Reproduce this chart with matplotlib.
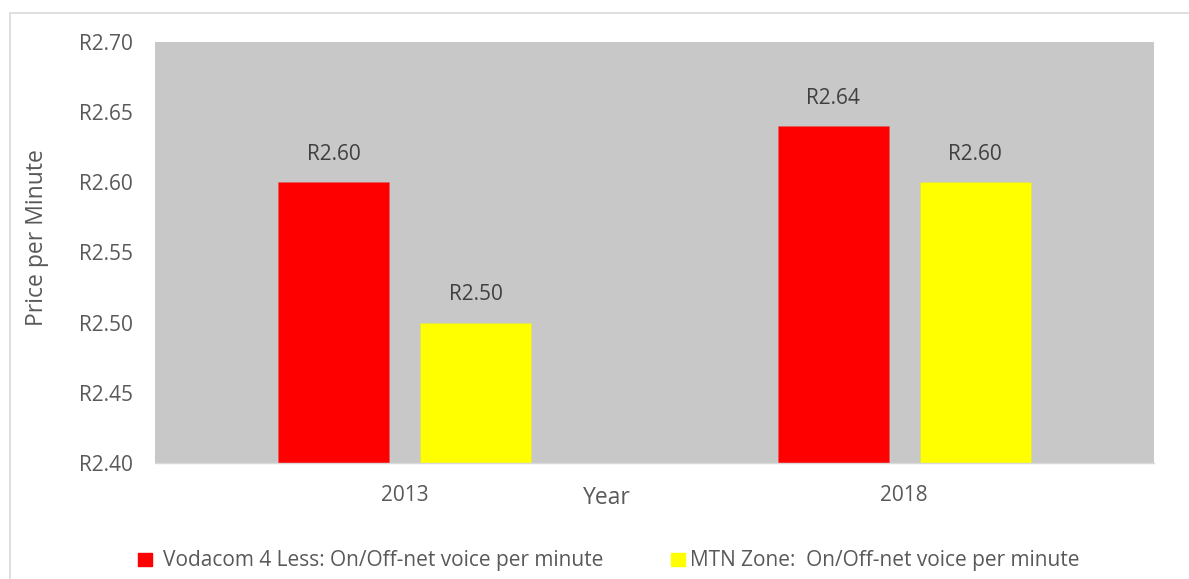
import matplotlib.pyplot as plt
from matplotlib.patches import Rectangle
import numpy as np

years = ["2013", "2018"]
vodacom = [2.60, 2.64]
mtn = [2.50, 2.60]
series_names = ["Vodacom 4 Less: On/Off-net voice per minute",
                "MTN Zone:  On/Off-net voice per minute"]
yticks = [2.40, 2.45, 2.50, 2.55, 2.60, 2.65, 2.70]

plt.rcParams['font.family'] = ['Open Sans', 'DejaVu Sans']
txt = '#595959'

fig = plt.figure(figsize=(11.89, 5.79), dpi=100)
ax = fig.add_axes([155/1189, 1-463/579, 999/1189, 421/579])
ax.set_facecolor('#c8c8c8')

x = np.arange(len(years))
w = 0.222
off = 0.142
base = 2.40
b1 = ax.bar(x - off, np.array(vodacom) - base, w, bottom=base, color='#ff0000',
            edgecolor='#e06060', linewidth=0.5, label=series_names[0])
b2 = ax.bar(x + off, np.array(mtn) - base, w, bottom=base, color='#ffff00',
            edgecolor='#e0e060', linewidth=0.5, label=series_names[1])

for bars, vals in [(b1, vodacom), (b2, mtn)]:
    for b, v in zip(bars, vals):
        ax.text(b.get_x() + b.get_width()/2, v + 0.0125, "R%.2f" % v,
                ha='center', va='bottom', fontsize=15, color='#404040')

ax.set_xlim(-0.5, 1.5)
ax.set_ylim(2.40, 2.70)
ax.set_yticks(yticks)
ax.set_yticklabels(["R%.2f" % t for t in yticks])
ax.set_xticks(x)
ax.set_xticklabels(years)
ax.tick_params(axis='both', length=0, labelsize=15, labelcolor=txt)
ax.tick_params(axis='y', pad=16)
ax.tick_params(axis='x', pad=16)
for s in ['top', 'right', 'left']:
    ax.spines[s].set_visible(False)
ax.spines['bottom'].set_color('#d9d9d9')
ax.spines['bottom'].set_linewidth(1)

fig.text(607/1189, 1-498/579, "Year", ha='center', va='center', fontsize=16.5, color=txt)
fig.text(37/1189, 1-238/579, "Price per Minute", ha='center', va='center',
         rotation=90, fontsize=16.5, color=txt)

# legend drawn manually at the bottom
for (sx, tx, col, name) in [(138, 163, '#ff0000', series_names[0]),
                            (671, 690, '#ffff00', series_names[1])]:
    fig.patches.append(Rectangle((sx/1189, 1-566/579), 14/1189, 13/579,
                                 transform=fig.transFigure, color=col))
    fig.text(tx/1189, 1-566/579, name, ha='left', va='baseline', fontsize=15, color=txt)

# outer frame
fig.patches.append(Rectangle((10/1189, -0.05), 1.1, 1 - 13/579 + 0.05,
                             transform=fig.transFigure, fill=False,
                             edgecolor='#d9d9d9', linewidth=1.2))

fig.savefig("out.png", dpi=100)
